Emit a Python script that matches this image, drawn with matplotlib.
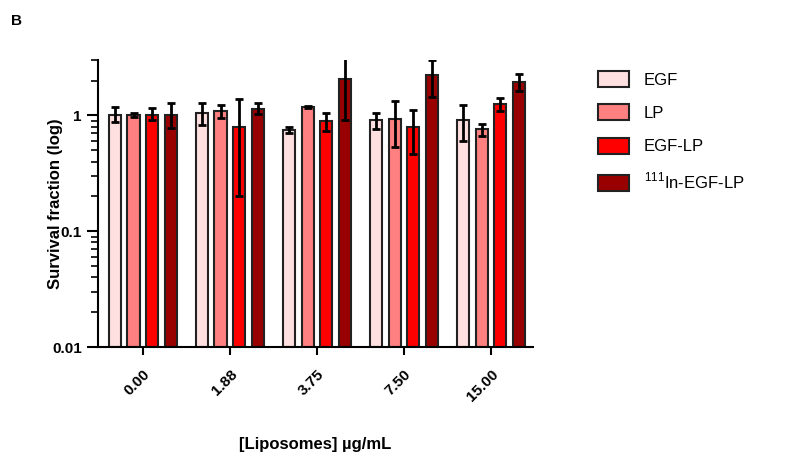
import matplotlib
matplotlib.use("Agg")
import matplotlib.pyplot as plt
import numpy as np
from matplotlib.patches import Patch

plt.rcParams['font.family'] = ['Liberation Sans', 'DejaVu Sans']
plt.rcParams['mathtext.fontset'] = 'custom'
plt.rcParams['mathtext.rm'] = 'Liberation Sans'

categories = ["0.00", "1.88", "3.75", "7.50", "15.00"]
series = ["EGF", "LP", "EGF-LP", r"$^{111}$In-EGF-LP"]
colors = ["#FFE0E0", "#FF8080", "#FF0000", "#990000"]

means = [
    [1.00, 1.04, 0.75, 0.91, 0.91],   # EGF
    [1.00, 1.09, 1.19, 0.93, 0.76],   # LP
    [1.00, 0.80, 0.90, 0.79, 1.26],   # EGF-LP
    [1.00, 1.14, 2.06, 2.25, 1.96],   # 111In-EGF-LP
]
upper = [
    [1.19, 1.27, 0.80, 1.05, 1.22],
    [1.04, 1.22, 1.21, 1.32, 0.85],
    [1.15, 1.39, 1.05, 1.12, 1.42],
    [1.29, 1.29, 3.20, 3.03, 2.26],
]
lower = [
    [0.87, 0.82, 0.71, 0.77, 0.60],
    [0.96, 0.95, 1.17, 0.53, 0.67],
    [0.91, 0.20, 0.74, 0.46, 1.09],
    [0.78, 1.02, 0.92, 1.45, 1.64],
]

fig = plt.figure(figsize=(7.89, 4.63), dpi=100)
ax = fig.add_axes([0.124, 0.2505, 0.5515, 0.6195])

x = np.arange(len(categories))
width = 0.14
step = 0.213
for i in range(len(series)):
    pos = x + (i - 1.5) * step
    m = np.array(means[i])
    up = np.array(upper[i]) - m
    lo = m - np.array(lower[i])
    ax.bar(pos, m - 0.01, bottom=0.01, width=width, color=colors[i],
           edgecolor="#222222", linewidth=1.5, zorder=2)
    ax.errorbar(pos, m, yerr=[lo, up], fmt='none', ecolor='black',
                elinewidth=2, capsize=3, capthick=2, zorder=3)

ax.set_yscale('log')
ax.set_ylim(0.01, 3.0)
ax.set_xlim(-0.517, 4.483)
ax.set_yticks([0.01, 0.1, 1])
ax.set_yticklabels(["0.01", "0.1", "1"], fontweight='bold', fontsize=11)
ax.yaxis.set_minor_locator(matplotlib.ticker.LogLocator(base=10, subs=np.arange(2, 10)))
ax.yaxis.set_minor_formatter(matplotlib.ticker.NullFormatter())
ax.tick_params(axis='y', which='major', length=8, width=1.5)
ax.tick_params(axis='y', which='minor', length=5, width=1.2)
ax.set_xticks(x)
ax.set_xticklabels(categories, rotation=45, ha='right', va='center',
                   rotation_mode='anchor', fontweight='bold', fontsize=11)
ax.tick_params(axis='x', length=6, width=1.5, pad=12)
for lab in ax.get_xticklabels():
    lab.set_transform(lab.get_transform() + matplotlib.transforms.ScaledTranslation(0.05, 0, fig.dpi_scale_trans))

for s in ['top', 'right']:
    ax.spines[s].set_visible(False)
for s in ['left', 'bottom']:
    ax.spines[s].set_linewidth(1.5)

ax.set_ylabel("Survival fraction (log)", fontweight='bold', fontsize=12, labelpad=-8)
ax.set_xlabel("[Liposomes] µg/mL", fontweight='bold', fontsize=12, labelpad=24)

handles = [Patch(facecolor=colors[i], edgecolor='#222222', linewidth=1.5) for i in range(4)]
fig.legend(handles, series, loc='upper left', bbox_to_anchor=(0.739, 0.879),
           frameon=False, fontsize=12, handlelength=1.86, handleheight=1.1,
           labelspacing=1.0, handletextpad=0.9)

fig.text(0.014, 0.955, "B", fontweight='bold', fontsize=11, va='center')

fig.savefig("out.png", dpi=100)
